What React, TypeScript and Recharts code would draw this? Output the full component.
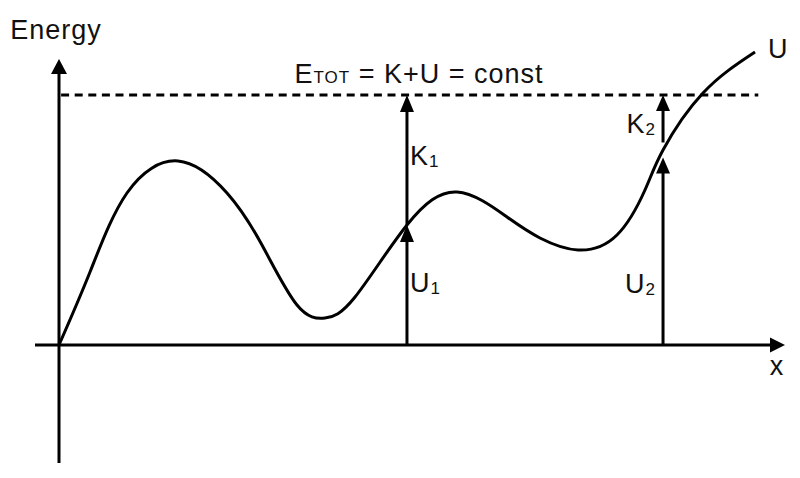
import React from "react";
import { LineChart, Line, XAxis, YAxis, ReferenceLine } from "recharts";

// Potential-energy curve U(x), in arbitrary units (origin at 0,0)
const curveX = [0, 4.43, 9.71, 17, 24, 29, 34, 38, 42.29, 49.71, 56.86, 64, 68.71, 74.14, 79.71, 83.71, 86.29, 92, 99.43];
const curveU = [0, 29.2, 60.8, 73.6, 60.8, 40, 16, 10.8, 19.2, 48, 61.2, 51.2, 42.8, 38, 44, 62, 78, 100.8, 117.2];

// Total energy level and the two marked positions
const E_TOT = 100;
const posX = [49.71, 86.29];
const posU = [48, 75];      // tips of the U arrows
const posKStart = [48, 81]; // bases of the K arrows

const X_DOMAIN: [number, number] = [-24 / 7, 726 / 7];
const Y_DOMAIN: [number, number] = [-47.2, 122];

const data = curveX.map((x, i) => ({ x, u: curveU[i] }));

const FONT = "'Liberation Sans', Arial, Helvetica, sans-serif";
const FS = 27;
const SUB = 17;

type LabelFn = (x1: number, y1: number, x2: number, y2: number) => React.ReactNode;

function arrowShape(label?: LabelFn, head = 16, width = 15) {
  return (p: any) => {
    const { x1, y1, x2, y2 } = p;
    const dx = x2 - x1;
    const dy = y2 - y1;
    const len = Math.hypot(dx, dy) || 1;
    const ux = dx / len;
    const uy = dy / len;
    const hw = width / 2;
    const bx = x2 - ux * head;
    const by = y2 - uy * head;
    const pts = `${x2},${y2} ${bx - uy * hw},${by + ux * hw} ${bx + uy * hw},${by - ux * hw}`;
    return (
      <g>
        <line x1={x1} y1={y1} x2={bx + ux * 1} y2={by + uy * 1} stroke="#000" strokeWidth={3} />
        <polygon points={pts} fill="#000" />
        {label ? label(x1, y1, x2, y2) : null}
      </g>
    );
  };
}

const txt = (x: number, y: number, main: string, sub?: string, anchor: "start" | "middle" | "end" = "start") => (
  <text x={x} y={y} fontFamily={FONT} fontSize={FS} letterSpacing={1} fill="#111" textAnchor={anchor}>
    {main}
    {sub ? (
      <tspan fontSize={SUB} dy={2}>
        {sub}
      </tspan>
    ) : null}
  </text>
);

const dashedShape = (p: any) => {
  const { x1, y1, x2, y2 } = p;
  return (
    <g>
      <line x1={x1} y1={y1} x2={x2} y2={y2} stroke="#000" strokeWidth={3} strokeDasharray="8 5.6" />
      <text x={419} y={y1 - 12} fontFamily={FONT} fontSize={FS} letterSpacing={1} fill="#111" textAnchor="middle">
        E
        <tspan fontSize={SUB}>TOT</tspan>
        <tspan> = K+U = const</tspan>
      </text>
    </g>
  );
};

const uLabel = (props: any) => {
  const { x, y, index } = props;
  if (index !== data.length - 1) return null;
  return (
    <text x={x + 13} y={y + 6} fontFamily={FONT} fontSize={FS} fill="#111">
      U
    </text>
  );
};

export default function App() {
  return (
    <div style={{ position: "absolute", left: 0, top: 0, width: 800, height: 478, background: "#fff" }}>
      <LineChart width={800} height={478} data={data} margin={{ left: 35, right: 15, top: 40, bottom: 15 }}>
        <XAxis type="number" dataKey="x" domain={X_DOMAIN} allowDataOverflow hide />
        <YAxis type="number" domain={Y_DOMAIN} allowDataOverflow hide />
        {/* x axis */}
        <ReferenceLine
          ifOverflow="visible"
          segment={[{ x: X_DOMAIN[0], y: 0 }, { x: X_DOMAIN[1], y: 0 }]}
          shape={arrowShape((x1, y1, x2, y2) => txt(x2 - 8, y2 + 30, "x", undefined, "middle"), 15, 15)}
        />
        {/* y axis */}
        <ReferenceLine
          ifOverflow="visible"
          segment={[{ x: 0, y: Y_DOMAIN[0] }, { x: 0, y: 114.4 }]}
          shape={arrowShape((x1, y1, x2, y2) => txt(x2 - 3, y2 - 20, "Energy", undefined, "middle"), 15, 16)}
        />
        {/* total energy */}
        <ReferenceLine
          ifOverflow="visible"
          segment={[{ x: 0.3, y: E_TOT }, { x: 99.9, y: E_TOT }]}
          shape={dashedShape}
        />
        {/* U1, K1 */}
        <ReferenceLine
          ifOverflow="visible"
          segment={[{ x: posX[0], y: 0 }, { x: posX[0], y: posU[0] }]}
          shape={arrowShape((x1, y1) => txt(x1 + 3, y1 - 53, "U", "1"), 17, 14)}
        />
        <ReferenceLine
          ifOverflow="visible"
          segment={[{ x: posX[0], y: posKStart[0] }, { x: posX[0], y: E_TOT }]}
          shape={arrowShape((x1, y1, x2, y2) => txt(x1 + 3, (y1 + y2) / 2 + 5, "K", "1"), 17, 14)}
        />
        {/* U2, K2 */}
        <ReferenceLine
          ifOverflow="visible"
          segment={[{ x: posX[1], y: 0 }, { x: posX[1], y: posU[1] }]}
          shape={arrowShape((x1, y1) => txt(x1 - 7, y1 - 52, "U", "2", "end"), 16, 14)}
        />
        <ReferenceLine
          ifOverflow="visible"
          segment={[{ x: posX[1], y: posKStart[1] }, { x: posX[1], y: E_TOT }]}
          shape={arrowShape((x1, y1) => txt(x1 - 7, y1 - 10, "K", "2", "end"), 16, 14)}
        />
        <Line
          type="natural"
          dataKey="u"
          stroke="#000"
          strokeWidth={3}
          dot={false}
          isAnimationActive={false}
          label={uLabel}
        />
      </LineChart>
    </div>
  );
}
